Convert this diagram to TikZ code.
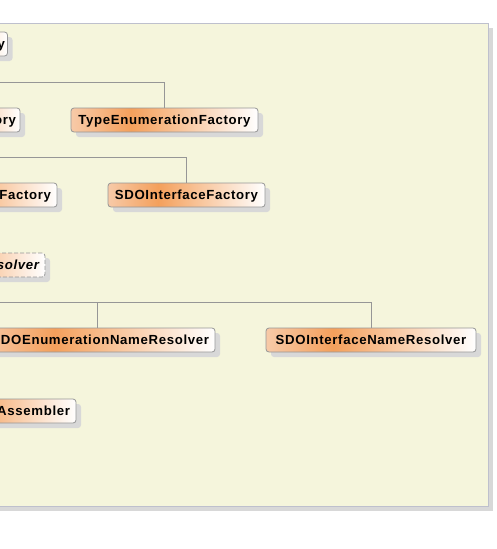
\documentclass[tikz,border=0pt]{standalone}
\usepackage{fontspec}
\newfontfamily\umlfont{Liberation Sans}[LetterSpace=5]
\usetikzlibrary{shadows}
\definecolor{panelbg}{RGB}{245,245,220}
\definecolor{panelrule}{RGB}{190,192,205}
\definecolor{panelshade}{RGB}{216,216,216}
\definecolor{clsleft}{RGB}{247,202,168}
\definecolor{clspeak}{RGB}{244,160,92}
\definecolor{clsrule}{RGB}{150,150,150}
\definecolor{linkgray}{RGB}{150,150,150}
\pgfdeclarehorizontalshading{clsshade}{100bp}{color(0bp)=(clsleft); color(25bp)=(clsleft); color(41bp)=(clspeak); color(75bp)=(white); color(100bp)=(white)}
\tikzset{
  cls/.style={draw=clsrule, line width=0.8pt, rounded corners=3pt, shading=clsshade,
    minimum height=24pt, inner xsep=6pt, inner ysep=0pt, text height=9.5pt, text depth=1pt,
    font=\umlfont\fontsize{13.2}{15}\selectfont\bfseries,
    drop shadow={shadow xshift=5pt, shadow yshift=-5pt, fill=panelshade, opacity=1}},
  cutcls/.style={cls, text width=#1, align=flush right},
  abscls/.style={cutcls=#1, dash pattern=on 4pt off 2pt,
    font=\umlfont\fontsize{13.2}{15}\selectfont\bfseries\itshape},
  link/.style={draw=linkgray, line width=0.8pt}
}
\begin{document}
\begin{tikzpicture}[x=1pt,y=-1pt]
\useasboundingbox (0,0) rectangle (496,549);
% package panel
\fill[panelshade] (-10,28) rectangle (493,511);
\filldraw[fill=panelbg, draw=panelrule, line width=0.8pt] (-10,23) rectangle (488,506);

% class boxes
\node[cutcls=108pt, inner xsep=2.5pt] (factoryA) at (-49,44) {y};
\node[cutcls=108pt, inner xsep=4pt] (factoryB) at (-38,120) {ory};
\node[cls, minimum width=187pt] (typeEnumFactory) at (164.5,120) {TypeEnumerationFactory};
\node[cutcls=138pt] (factoryC) at (-18,195) {Factory};
\node[cls, minimum width=157pt] (sdoIfFactory) at (186.5,195) {SDOInterfaceFactory};
\node[abscls=138pt] (nameResolver) at (-30,265) {solver};
\node[cutcls=224pt] (enumNameResolver) at (97,340) {DOEnumerationNameResolver};
\node[cls, minimum width=210pt] (ifNameResolver) at (371,340) {SDOInterfaceNameResolver};
\node[cutcls=148pt] (assembler) at (-4,411) {Assembler};

% generalization trees, parents off the left edge
\coordinate (treeA) at (-10,82);
\coordinate (treeB) at (-10,157);
\coordinate (treeC) at (-10,302);
\draw[link] (typeEnumFactory.north) |- (treeA);
\draw[link] (sdoIfFactory.north) |- (treeB);
\draw[link] (enumNameResolver.north) |- (treeC);
\draw[link] (ifNameResolver.north) |- (treeC);
\end{tikzpicture}
\end{document}
